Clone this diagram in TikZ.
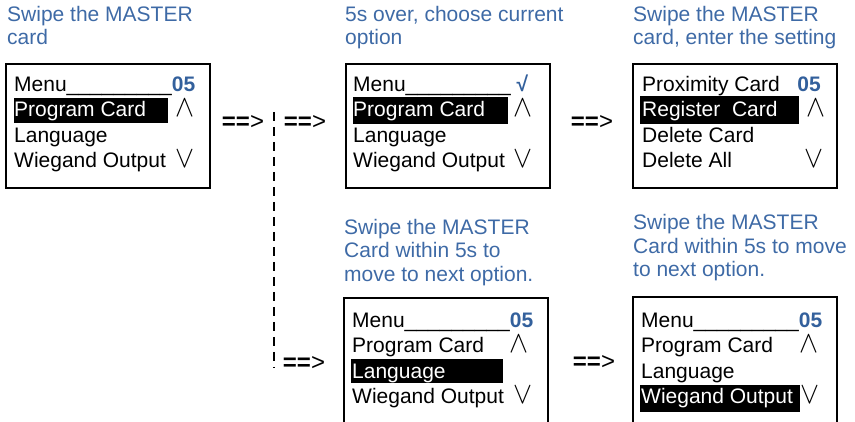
\documentclass[tikz,border=0pt]{standalone}
\usepackage{fontspec}
\setmainfont{Liberation Sans}
\usepackage{graphicx}
\definecolor{ttlblue}{HTML}{3E6AA6}
\definecolor{numblue}{HTML}{33609C}
\newcommand\wedgesym{\resizebox{19pt}{17pt}{$\wedge$}}
\newcommand\veesym{\resizebox{19pt}{17pt}{$\vee$}}
\newcommand\numtxt[1]{{\bfseries\color{numblue}#1}}
\begin{document}
\begin{tikzpicture}[x=1pt,y=-1pt,
  txt/.style={anchor=base west, inner sep=0pt, font=\fontsize{21}{25}\selectfont},
  ttl/.style={txt, text=ttlblue},
  inv/.style={txt, text=white},
  hl/.style={fill=black},
  box/.style={draw=black, line width=2pt, anchor=north west, inner sep=0pt, minimum width=204pt, minimum height=124pt},
  arr/.style={inner sep=0pt, font=\fontsize{24}{26}\selectfont},
  sym/.style={anchor=base west, inner sep=0pt},
  numb/.style={anchor=base east, inner sep=0pt, font=\fontsize{21}{25}\selectfont\bfseries, text=numblue},
  conn/.style={line width=2pt, dash pattern=on 9pt off 6pt}]
\useasboundingbox (0,0) rectangle (855,422);
\clip (0,0) rectangle (855,422);

% titles
\node[ttl] (t1a) at (7,22) {Swipe the MASTER};
\node[ttl] (t1b) at (7,45) {card};
\node[ttl] (t2a) at (345,22) {5s over, choose current};
\node[ttl] (t2b) at (345,45) {option};
\node[ttl] (t3a) at (633,22) {Swipe the MASTER};
\node[ttl] (t3b) at (633,45) {card, enter the setting};
\node[ttl] (t4a) at (344,235) {Swipe the MASTER};
\node[ttl] (t4b) at (344,258) {Card within 5s to};
\node[ttl] (t4c) at (344,282) {move to next option.};
\node[ttl] (t5a) at (633,230) {Swipe the MASTER};
\node[ttl] (t5b) at (633,254) {Card within 5s to move};
\node[ttl] (t5c) at (633,277) {to next option.};

% boxes
\node[box] (b1) at (5,63) {};
\node[box] (b2) at (345,63) {};
\node[box] (b3) at (632,63) {};
\node[box, minimum height=140pt] (b4) at (343,297) {};
\node[box, minimum height=140pt] (b5) at (632,296) {};

% box 1
\fill[hl] (14,98) rectangle (168,123);
\node[txt] (m1) at (14,92) {Menu\_\_\_\_\_\_\_\_\_\numtxt{05}};
\node[inv] (p1) at (14,117) {Program Card};
\node[sym] (u1) at (175,117) {\wedgesym};
\node[txt] (l1) at (14,142.5) {Language};
\node[txt] (w1) at (14,168) {Wiegand Output};
\node[sym] (d1) at (175,168) {\veesym};

% box 2
\fill[hl] (353,97) rectangle (508,124);
\node[txt] (m2) at (353,92) {Menu\_\_\_\_\_\_\_\_\_\ \numtxt{√}};
\node[inv] (p2) at (353,117) {Program Card};
\node[sym] (u2) at (513,117) {\wedgesym};
\node[txt] (l2) at (353,142.5) {Language};
\node[txt] (w2) at (353,168) {Wiegand Output};
\node[sym] (d2) at (513,168) {\veesym};

% box 3
\fill[hl] (640,96) rectangle (799,124);
\node[txt] (m3) at (642,92) {Proximity Card};
\node[numb] (n3) at (821,92) {05};
\node[inv] (p3) at (642,117) {Register\ \ Card};
\node[sym] (u3) at (806,117) {\wedgesym};
\node[txt] (l3) at (642,142.5) {Delete Card};
\node[txt] (w3) at (642,168) {Delete All};
\node[sym] (d3) at (804,168) {\veesym};

% box 4
\fill[hl] (351,359) rectangle (503,383);
\node[txt] (m4) at (352,327) {Menu\_\_\_\_\_\_\_\_\_\numtxt{05}};
\node[txt] (p4) at (352,352.5) {Program Card};
\node[sym] (u4) at (509,352.5) {\wedgesym};
\node[inv] (l4) at (352,378) {Language};
\node[txt] (w4) at (352,403.5) {Wiegand Output};
\node[sym] (d4) at (513,403.5) {\veesym};

% box 5
\fill[hl] (640,385) rectangle (800,412);
\node[txt] (m5) at (641,327) {Menu\_\_\_\_\_\_\_\_\_\numtxt{05}};
\node[txt] (p5) at (641,352.5) {Program Card};
\node[sym] (u5) at (799,352.5) {\wedgesym};
\node[txt] (l5) at (641,378) {Language};
\node[inv] (w5) at (641,403.5) {Wiegand Output};
\node[sym] (d5) at (800,403.5) {\veesym};

% arrows
\node[arr] (a1) at (243,123) {{\bfseries ==}>};
\node[arr] (a2) at (305,123) {{\bfseries ==}>};
\node[arr] (a3) at (592,123) {{\bfseries ==}>};
\node[arr] (a4) at (304,364) {{\bfseries ==}>};
\node[arr] (a5) at (594,363) {{\bfseries ==}>};

% dashed branch
\coordinate (dtop) at (274,112);
\coordinate (dbot) at (274,368);
\draw[conn] (dtop) -- (dbot);
\end{tikzpicture}
\end{document}
